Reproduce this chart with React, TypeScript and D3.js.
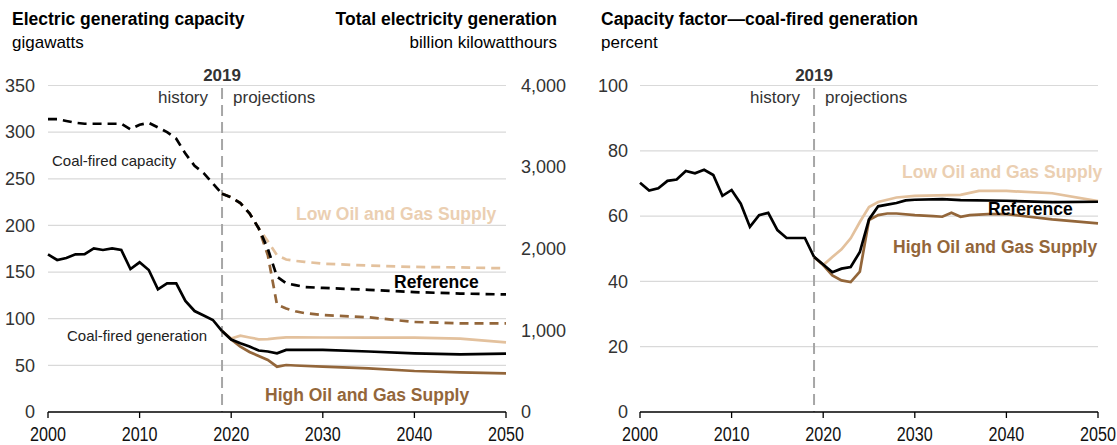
import * as d3 from 'd3';
import React from 'react';

// ---- data ----
const histYears = [2000, 2001, 2002, 2003, 2004, 2005, 2006, 2007, 2008, 2009, 2010, 2011, 2012, 2013, 2014, 2015, 2016, 2017, 2018, 2019];

// coal-fired capacity, gigawatts
const capHist = [314, 314, 312, 310, 309, 309, 309, 309, 309, 303, 308, 310, 305, 300, 293, 277, 264, 256, 245, 234];
const capProjYears = [2019, 2020, 2021, 2022, 2023, 2024, 2025, 2026, 2027, 2028, 2030, 2035, 2040, 2045, 2050];
const capRef = [234, 230, 224, 213, 197, 175, 145, 138, 136, 134, 133, 131, 128.5, 127, 126];
const capLow = [234, 230, 224, 213, 197, 183, 168, 163.5, 162, 161, 159, 157, 155.5, 155, 154];
const capHigh = [234, 230, 224, 213, 197, 168, 115, 111, 108, 106, 104, 101.5, 96.5, 95, 95];

// coal-fired generation, billion kWh
const genHist = [1930, 1862, 1887, 1932, 1935, 2005, 1985, 2005, 1985, 1752, 1834, 1740, 1503, 1577, 1577, 1360, 1237, 1182, 1127, 992];
const genProjYears = [2019, 2020, 2021, 2022, 2023, 2024, 2025, 2026, 2027, 2030, 2035, 2040, 2045, 2050];
const genRef = [992, 888, 842, 802, 753, 741, 719, 760, 760, 760, 741, 719, 707, 715];
const genLow = [992, 900, 935, 913, 891, 894, 906, 915, 915, 913, 910, 910, 898, 854];
const genHigh = [992, 888, 800, 735, 686, 637, 555, 576, 570, 555, 535, 502, 486, 474];

// capacity factor, percent
const cfHist = [70.2, 67.8, 68.5, 70.8, 71.2, 73.8, 73.1, 74.2, 72.6, 66.2, 68, 63.8, 56.7, 60.3, 61, 55.7, 53.3, 53.3, 53.3, 47.5];
const cfRefYears = [2019, 2020, 2021, 2022, 2023, 2024, 2025, 2026, 2027, 2028, 2029, 2030, 2033, 2035, 2040, 2045, 2050];
const cfRef = [47.5, 45.2, 42.8, 43.9, 44.4, 49, 59, 63, 63.5, 64, 64.8, 65, 65.2, 64.9, 64.7, 64.3, 64.4];
const cfLowYears = [2019, 2020, 2021, 2022, 2023, 2024, 2025, 2026, 2027, 2028, 2030, 2035, 2037, 2040, 2045, 2050];
const cfLow = [47.5, 45, 47.5, 49.8, 53.2, 58.2, 62.8, 64.3, 65, 65.7, 66.2, 66.5, 67.7, 67.7, 67, 64.6];
const cfHighYears = [2019, 2020, 2021, 2022, 2023, 2024, 2025, 2026, 2027, 2028, 2030, 2032, 2033, 2034, 2035, 2036, 2038, 2040, 2045, 2050];
const cfHigh = [47.5, 45, 41.8, 40.3, 39.8, 43, 58.8, 60.3, 60.8, 60.8, 60.3, 60, 59.8, 61, 59.8, 60.3, 60.6, 60.6, 59, 57.8];

const xTicks = [2000, 2010, 2020, 2030, 2040, 2050];
const capTicks = [0, 50, 100, 150, 200, 250, 300, 350];
const genTicks = [0, 1000, 2000, 3000, 4000];
const cfTicks = [0, 20, 40, 60, 80, 100];

const REF = '#000000';
const LOW = '#e3c19d';
const HIGH = '#93663a';
const LOW_TXT = '#ebcfb2';
const GRID = '#d9d9d9';
const FONT = '"Liberation Sans", Arial, Helvetica, sans-serif';

const zip = (xs: number[], ys: number[]) => xs.map((x, i) => [x, ys[i]] as [number, number]);

export default function App() {
  const top = 85.5, bottom = 412;
  const xL = d3.scaleLinear().domain([2000, 2050]).range([48, 506]);
  const yCap = d3.scaleLinear().domain([0, 350]).range([bottom, top]);
  const yGen = d3.scaleLinear().domain([0, 4000]).range([bottom, top]);
  const xR = d3.scaleLinear().domain([2000, 2050]).range([640, 1098]);
  const yCf = d3.scaleLinear().domain([0, 100]).range([bottom, top]);

  const lineCap = d3.line<[number, number]>().x(d => xL(d[0])).y(d => yCap(d[1]));
  const lineGen = d3.line<[number, number]>().x(d => xL(d[0])).y(d => yGen(d[1]));
  const lineCf = d3.line<[number, number]>().x(d => xR(d[0])).y(d => yCf(d[1]));

  const dash = '9,6';
  const sw = 2.7;

  // the year labels in the original look a little stretched vertically
  const xAxis = (x: d3.ScaleLinear<number, number>) => (
    <g>
      <line x1={x(2000)} x2={x(2050)} y1={bottom} y2={bottom} stroke="#000" strokeWidth={1.3} />
      {xTicks.map(t => (
        <g key={t}>
          <line x1={x(t)} x2={x(t)} y1={bottom} y2={bottom + 6} stroke="#000" strokeWidth={1.3} />
          <text transform={`translate(${x(t)},441) scale(0.95,1.2)`} textAnchor="middle" fontSize={17} fill="#111">{t}</text>
        </g>
      ))}
    </g>
  );

  const divider = (x: d3.ScaleLinear<number, number>) => (
    <g>
      <line x1={x(2019)} x2={x(2019)} y1={88} y2={bottom} stroke="#a6a6a6" strokeWidth={2} strokeDasharray="11,6" />
      <text x={x(2019)} y={81} textAnchor="middle" fontSize={17} fontWeight="bold" fill="#333">2019</text>
      <text x={x(2019) - 14} y={103} textAnchor="end" fontSize={17} fill="#333">history</text>
      <text x={x(2019) + 11} y={103} fontSize={17} fill="#333">projections</text>
    </g>
  );

  return (
    <svg width={1117} height={445} style={{ position: 'absolute', left: 0, top: 0, fontFamily: FONT }}>
      <rect width={1117} height={445} fill="#fff" />

      {/* ---------- left panel ---------- */}
      <text x={12} y={25} fontSize={17.5} fontWeight="bold" fill="#000">Electric generating capacity</text>
      <text x={12} y={48} fontSize={17} fill="#000">gigawatts</text>
      <text x={557} y={25} textAnchor="end" fontSize={17.5} fontWeight="bold" fill="#000">Total electricity generation</text>
      <text x={557} y={48} textAnchor="end" fontSize={17} fill="#000">billion kilowatthours</text>

      {capTicks.filter(t => t > 0).map(t => (
        <line key={t} x1={xL(2000)} x2={xL(2050)} y1={yCap(t)} y2={yCap(t)} stroke={GRID} strokeWidth={1.2} />
      ))}
      {capTicks.map(t => (
        <text key={t} x={35} y={yCap(t)} dy="0.35em" textAnchor="end" fontSize={18} fill="#333">{t}</text>
      ))}
      {genTicks.map(t => (
        <text key={t} x={521} y={yGen(t)} dy="0.35em" fontSize={18} fill="#333">{d3.format(',')(t)}</text>
      ))}
      {divider(xL)}

      <path d={lineCap(zip(histYears, capHist)) || ''} fill="none" stroke={REF} strokeWidth={sw} strokeDasharray={dash} />
      <path d={lineCap(zip(capProjYears, capLow)) || ''} fill="none" stroke={LOW} strokeWidth={sw} strokeDasharray={dash} />
      <path d={lineCap(zip(capProjYears, capHigh)) || ''} fill="none" stroke={HIGH} strokeWidth={sw} strokeDasharray={dash} />
      <path d={lineCap(zip(capProjYears, capRef)) || ''} fill="none" stroke={REF} strokeWidth={sw} strokeDasharray={dash} />

      <path d={lineGen(zip(genProjYears, genLow)) || ''} fill="none" stroke={LOW} strokeWidth={sw} />
      <path d={lineGen(zip(genProjYears, genHigh)) || ''} fill="none" stroke={HIGH} strokeWidth={sw} />
      <path d={lineGen(zip(genProjYears, genRef)) || ''} fill="none" stroke={REF} strokeWidth={sw} />
      <path d={lineGen(zip(histYears, genHist)) || ''} fill="none" stroke={REF} strokeWidth={sw} />

      <text x={52} y={166} fontSize={15} fill="#222">Coal-fired capacity</text>
      <text x={67} y={341} fontSize={15} fill="#222">Coal-fired generation</text>
      <text x={296} y={220} fontSize={17.5} fontWeight="bold" fill={LOW_TXT}>Low Oil and Gas Supply</text>
      <text x={394} y={288} fontSize={17.5} fontWeight="bold" fill={REF}>Reference</text>
      <text x={265} y={401} fontSize={17.5} fontWeight="bold" fill={HIGH}>High Oil and Gas Supply</text>

      {xAxis(xL)}

      {/* ---------- right panel ---------- */}
      <text x={601} y={25} fontSize={17.5} fontWeight="bold" fill="#000">Capacity factor—coal-fired generation</text>
      <text x={601} y={48} fontSize={17} fill="#000">percent</text>

      {cfTicks.filter(t => t > 0).map(t => (
        <line key={t} x1={xR(2000)} x2={xR(2050)} y1={yCf(t)} y2={yCf(t)} stroke={GRID} strokeWidth={1.2} />
      ))}
      {cfTicks.map(t => (
        <text key={t} x={628} y={yCf(t)} dy="0.35em" textAnchor="end" fontSize={18} fill="#333">{t}</text>
      ))}
      {divider(xR)}

      <path d={lineCf(zip(cfLowYears, cfLow)) || ''} fill="none" stroke={LOW} strokeWidth={sw} />
      <path d={lineCf(zip(cfHighYears, cfHigh)) || ''} fill="none" stroke={HIGH} strokeWidth={sw} />
      <path d={lineCf(zip(cfRefYears, cfRef)) || ''} fill="none" stroke={REF} strokeWidth={sw} />
      <path d={lineCf(zip(histYears, cfHist)) || ''} fill="none" stroke={REF} strokeWidth={sw} />

      <text x={902} y={178} fontSize={17.5} fontWeight="bold" fill={LOW_TXT}>Low Oil and Gas Supply</text>
      <text x={988} y={215} fontSize={17.5} fontWeight="bold" fill={REF}>Reference</text>
      <text x={893} y={253} fontSize={17.5} fontWeight="bold" fill={HIGH}>High Oil and Gas Supply</text>

      {xAxis(xR)}
    </svg>
  );
}
